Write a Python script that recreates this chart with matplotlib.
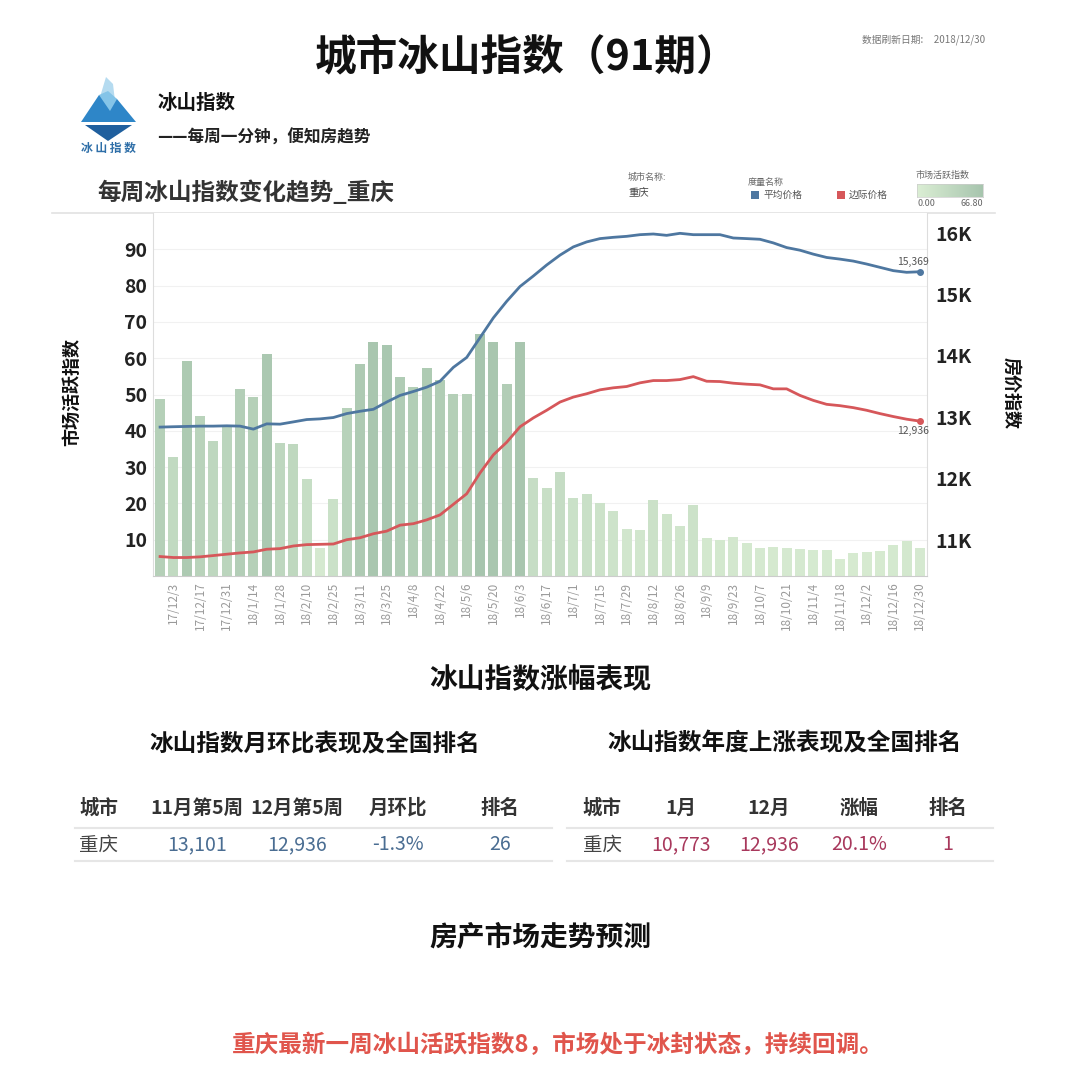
import numpy as np
import matplotlib.pyplot as plt
from matplotlib.colors import LinearSegmentedColormap
from matplotlib.patches import Polygon, Rectangle

plt.rcParams['font.family'] = ['Noto Sans CJK SC', 'DejaVu Sans']

W, H = 1080, 1085

# weekly market activity index (bars), 17/11/26 .. 18/12/30
activity = [48.8, 32.9, 59.3, 44.1, 37.2, 41.2, 51.6, 49.2, 61.1, 36.6,
            36.4, 26.8, 7.6, 21.2, 46.4, 58.4, 64.5, 63.7, 54.7, 52.0,
            57.3, 54.1, 50.2, 50.2, 66.8, 64.5, 53.0, 64.5, 27.0, 24.2,
            28.6, 21.4, 22.5, 20.0, 18.0, 13.0, 12.8, 21.0, 17.2, 13.9,
            19.6, 10.4, 9.9, 10.8, 9.0, 7.8, 8.1, 7.6, 7.4, 7.2,
            7.2, 4.7, 6.4, 6.7, 7.0, 8.6, 9.7, 7.6]

# 平均价格
avg_price = [12839, 12845, 12850, 12855, 12855, 12860, 12855, 12806, 12892, 12887,
             12924, 12962, 12973, 12995, 13059, 13097, 13129, 13247, 13355, 13419,
             13489, 13586, 13812, 13973, 14296, 14618, 14887, 15129, 15300, 15479,
             15640, 15774, 15855, 15909, 15930, 15946, 15973, 15984, 15962, 15995,
             15973, 15973, 15973, 15919, 15909, 15898, 15839, 15763, 15720, 15656,
             15602, 15575, 15543, 15495, 15441, 15387, 15360, 15369]

# 边际价格
marginal_price = [10731, 10715, 10715, 10726, 10747, 10769, 10790, 10806, 10850, 10860,
                  10903, 10925, 10930, 10935, 11005, 11037, 11102, 11145, 11242, 11266,
                  11328, 11409, 11581, 11753, 12092, 12387, 12592, 12844, 12989, 13113,
                  13247, 13328, 13382, 13446, 13479, 13500, 13560, 13597, 13597, 13613,
                  13661, 13586, 13581, 13554, 13538, 13527, 13462, 13462, 13355, 13274,
                  13210, 13188, 13156, 13113, 13059, 13011, 12968, 12936]

tick_labels = ['17/12/3', '17/12/17', '17/12/31', '18/1/14', '18/1/28', '18/2/10',
               '18/2/25', '18/3/11', '18/3/25', '18/4/8', '18/4/22', '18/5/6',
               '18/5/20', '18/6/3', '18/6/17', '18/7/1', '18/7/15', '18/7/29',
               '18/8/12', '18/8/26', '18/9/9', '18/9/23', '18/10/7', '18/10/21',
               '18/11/4', '18/11/18', '18/12/2', '18/12/16', '18/12/30']

left_ticks = [10, 20, 30, 40, 50, 60, 70, 80, 90]
right_ticks = [11000, 12000, 13000, 14000, 15000, 16000]
right_tick_labels = ['11K', '12K', '13K', '14K', '15K', '16K']

mom_header = ['城市', '11月第5周', '12月第5周', '月环比', '排名']
mom_row = ['重庆', '13,101', '12,936', '-1.3%', '26']
yoy_header = ['城市', '1月', '12月', '涨幅', '排名']
yoy_row = ['重庆', '10,773', '12,936', '20.1%', '1']

BLUE = '#4e77a0'
RED = '#d6575a'
bar_cmap = LinearSegmentedColormap.from_list('ice', ['#dbeed4', '#a7c5ae'])


def fx(x):
    return x / W


def fy(y):
    return 1 - y / H


fig = plt.figure(figsize=(10.8, 10.85), dpi=100)

# background axes in pixel coords for header / tables / decoration
bg = fig.add_axes([0, 0, 1, 1])
bg.set_xlim(0, W)
bg.set_ylim(H, 0)
bg.axis('off')

#
# Header
#
bg.text(527, 57, '城市冰山指数（91期）', fontsize=30, fontweight='bold',
        ha='center', va='center', color='#111')
bg.text(862, 40, '数据刷新日期:     2018/12/30', fontsize=7, color='#777',
        ha='left', va='center')

# logo (simple iceberg)
bg.add_patch(Polygon([[100, 97], [106, 77], [113, 84], [115, 101]], closed=True,
                     fc='#b5dbf0', ec='none'))
bg.add_patch(Polygon([[81, 122], [99, 95], [117, 99], [136, 122]], closed=True,
                     fc='#2e86c8', ec='none'))
bg.add_patch(Polygon([[99, 95], [108, 91], [117, 99], [110, 111]], closed=True,
                     fc='#84c4e8', ec='none'))
bg.add_patch(Polygon([[85, 125], [132, 125], [108, 141]], closed=True,
                     fc='#1f5f9e', ec='none'))
bg.text(108, 148, '冰 山 指 数', fontsize=8.5, fontweight='bold', color='#2f6fa8',
        ha='center', va='center')

bg.text(157, 103, '冰山指数', fontsize=14, fontweight='bold', color='#111',
        ha='left', va='center')
bg.text(157, 138, '——每周一分钟，便知房趋势', fontsize=12, fontweight='bold',
        color='#222', ha='left', va='center')

bg.text(97, 193, '每周冰山指数变化趋势_重庆', fontsize=17, fontweight='bold',
        color='#333', ha='left', va='center')

# legend block
bg.text(628, 177, '城市名称:', fontsize=6.5, color='#666', ha='left', va='center')
bg.text(628, 192, '重庆', fontsize=7.5, color='#444', ha='left', va='center')
bg.text(748, 182, '度量名称', fontsize=6.5, color='#666', ha='left', va='center')
bg.add_patch(Rectangle((751, 191), 8, 8, fc=BLUE, ec='none'))
bg.text(763, 195, '平均价格', fontsize=7, color='#555', ha='left', va='center')
bg.add_patch(Rectangle((837, 191), 8, 8, fc=RED, ec='none'))
bg.text(849, 195, '边际价格', fontsize=7, color='#555', ha='left', va='center')
bg.text(915, 175, '市场活跃指数', fontsize=6.5, color='#666', ha='left', va='center')
bg.text(917, 204, '0.00', fontsize=6.5, color='#666', ha='left', va='center')
bg.text(983, 204, '66.80', fontsize=6.5, color='#666', ha='right', va='center')

cax = fig.add_axes([fx(917), fy(197), fx(983) - fx(917), 13 / H])
cax.imshow(np.linspace(0, 1, 100).reshape(1, -1), cmap=bar_cmap, aspect='auto')
cax.set_xticks([])
cax.set_yticks([])
for s in cax.spines.values():
    s.set_color('#cccccc')
    s.set_linewidth(0.5)

# frame line above the chart
bg.plot([52, 995], [213, 213], color='#e2e2e2', lw=1.2)

#
# Main chart
#
ax = fig.add_axes([fx(153), fy(576), fx(927) - fx(153), (576 - 213) / H])
x = np.arange(len(activity))
vals = np.array(activity)
ax.bar(x, vals, width=0.74, color=bar_cmap(vals / vals.max()), zorder=2)
ax.set_xlim(-0.53, len(activity) - 0.47)
ax.set_ylim(0, 100)
ax.set_yticks(left_ticks)
ax.set_yticklabels([str(t) for t in left_ticks], fontsize=14, fontweight='bold', color='#222')
ax.yaxis.grid(True, color='#f1f1f1', lw=0.8)
ax.set_axisbelow(True)
ax.set_xticks(x[1::2])
ax.set_xticklabels(tick_labels, rotation=90, fontsize=8.5, color='#9a9a9a')
ax.tick_params(axis='both', length=0)
ax.tick_params(axis='y', pad=4)
ax.tick_params(axis='x', pad=4)
ax.spines['top'].set_visible(False)
ax.spines['left'].set_color('#dddddd')
ax.spines['right'].set_color('#dddddd')
ax.spines['bottom'].set_color('#cccccc')

ax2 = ax.twinx()
ax2.plot(x, avg_price, color=BLUE, lw=2, zorder=3)
ax2.plot(x, marginal_price, color=RED, lw=2, zorder=3)
ax2.plot(x[-1], avg_price[-1], 'o', color=BLUE, ms=4)
ax2.plot(x[-1], marginal_price[-1], 'o', color=RED, ms=4)
ax2.annotate(f'{avg_price[-1]:,}', (x[-1], avg_price[-1]), xytext=(-5, 7),
             textcoords='offset points', ha='center', va='center', fontsize=7.5, color='#555')
ax2.annotate(f'{marginal_price[-1]:,}', (x[-1], marginal_price[-1]), xytext=(-5, -7),
             textcoords='offset points', ha='center', va='center', fontsize=7.5, color='#555')
ax2.set_ylim(10414, 16326)
ax2.set_yticks(right_ticks)
ax2.set_yticklabels(right_tick_labels, fontsize=14, fontweight='bold', color='#222')
ax2.tick_params(axis='y', length=0, pad=6)
for s in ax2.spines.values():
    s.set_visible(False)

bg.text(72, 392, '市场活跃指数', fontsize=13, fontweight='bold', color='#111',
        rotation=90, ha='center', va='center')
bg.text(1011, 393, '房价指数', fontsize=13, fontweight='bold', color='#111',
        rotation=270, ha='center', va='center')

#
# Tables
#
bg.text(540, 680, '冰山指数涨幅表现', fontsize=20, fontweight='bold', color='#111',
        ha='center', va='center')
bg.text(315, 743, '冰山指数月环比表现及全国排名', fontsize=17, fontweight='bold',
        color='#111', ha='center', va='center')
bg.text(785, 743, '冰山指数年度上涨表现及全国排名', fontsize=17, fontweight='bold',
        color='#111', ha='center', va='center')


def draw_table(header, row, cols, x0, x1, val_color):
    for cx, h in zip(cols, header):
        bg.text(cx, 808, h, fontsize=14, fontweight='bold', color='#333',
                ha='center', va='center')
    for i, (cx, v) in enumerate(zip(cols, row)):
        bg.text(cx, 845, v, fontsize=14, color='#444' if i == 0 else val_color,
                ha='center', va='center')
    bg.plot([x0, x1], [828, 828], color='#e6e6e6', lw=1.5)
    bg.plot([x0, x1], [861, 861], color='#e6e6e6', lw=1.5)


draw_table(mom_header, mom_row, [99, 197, 297, 398, 500], 75, 552, '#4a6d92')
draw_table(yoy_header, yoy_row, [602, 681, 769, 859, 948], 567, 993, '#a8385c')

bg.text(540, 937, '房产市场走势预测', fontsize=20, fontweight='bold', color='#111',
        ha='center', va='center')
bg.text(558, 1045, '重庆最新一周冰山活跃指数8，市场处于冰封状态，持续回调。',
        fontsize=17, fontweight='bold', color='#e0554c', ha='center', va='center')

fig.savefig('out.png', dpi=100, facecolor='white')
